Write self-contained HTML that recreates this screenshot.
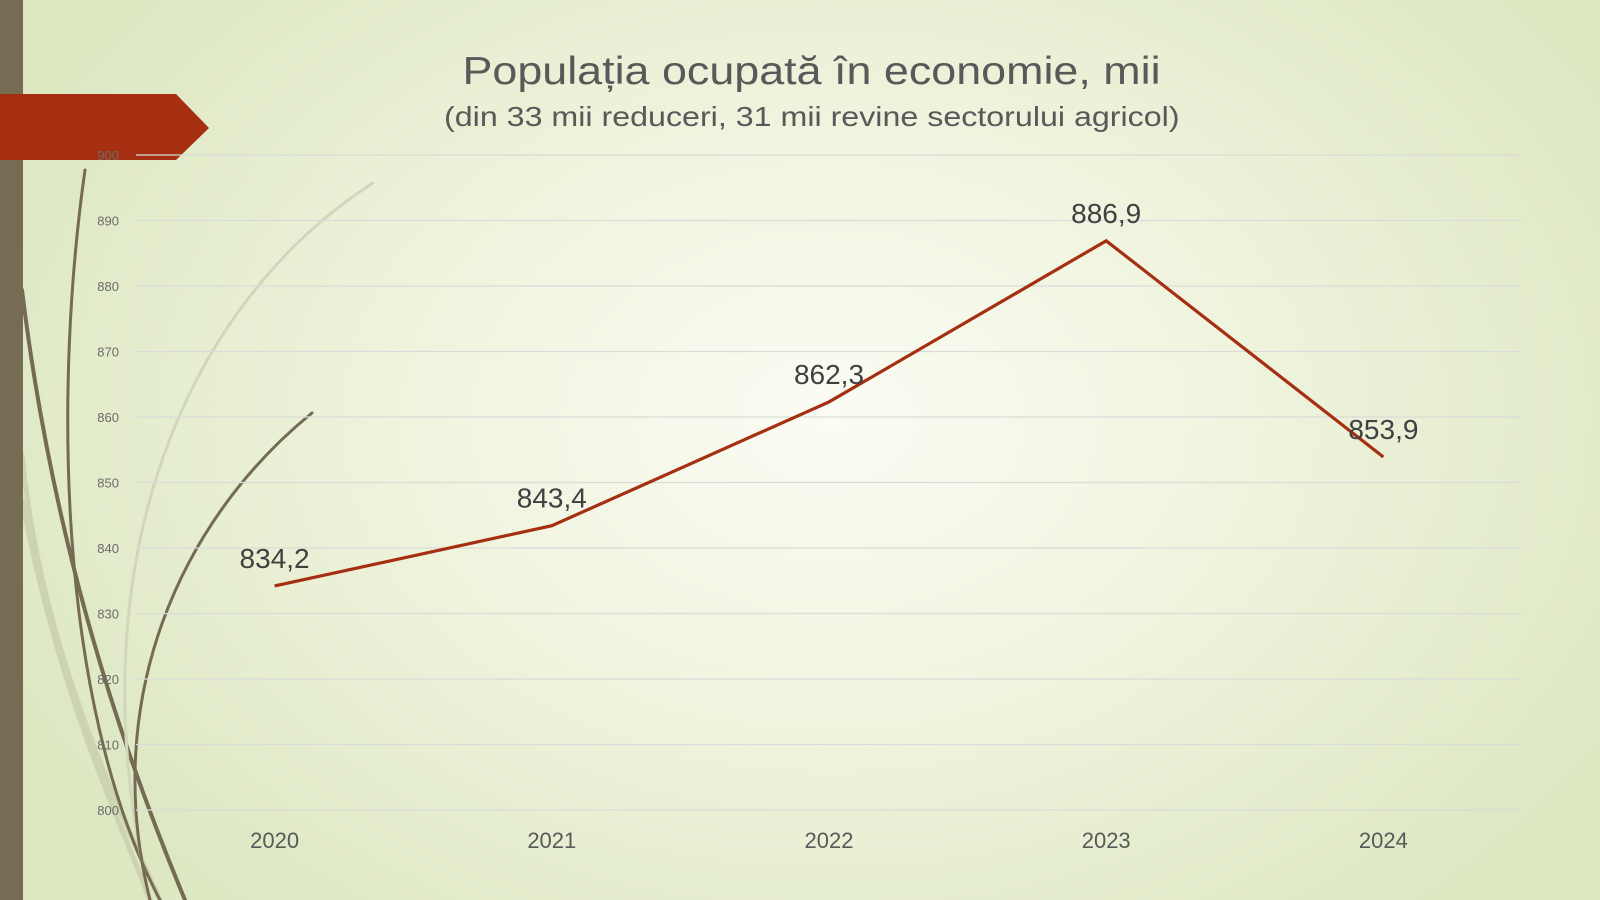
<!DOCTYPE html>
<html><head><meta charset="utf-8"><style>
html,body{margin:0;padding:0}
body{width:1600px;height:900px;overflow:hidden;position:relative;font-family:"Liberation Sans",sans-serif;
background:radial-gradient(ellipse 900px 650px at 830px 420px,#fbfcf4 0%,#eef3dc 50%,#dde7c2 100%);}
.tt{position:absolute;left:0;width:1624px;text-align:center;color:#595959}
.tt span{display:inline-block;transform:scaleX(1.15);transform-origin:center}
</style></head><body>
<svg width="1600" height="900" style="position:absolute;left:0;top:0">
<g fill="none" stroke-linecap="round">
<path d="M22 455 C40 640 110 790 160 900" stroke="#cdd3b0" stroke-width="5"/>
<path d="M22 500 C60 700 120 820 150 900" stroke="#cdd3b0" stroke-width="5"/>
<path d="M22 290 C50 520 110 720 185 900" stroke="#746b52" stroke-width="4"/>
<path d="M85 170 C55 380 55 700 160 900" stroke="#746b52" stroke-width="3"/>
<path d="M373 183 C190 300 70 560 150 900" stroke="#d2d6bd" stroke-width="3"/>
<path d="M312 413 C180 520 100 700 150 900" stroke="#746b52" stroke-width="3"/>
</g>
<rect x="0" y="0" width="23" height="900" fill="#766c53"/>
<polygon points="0,94 176,94 209,128 176,160 0,160" fill="#a52f10"/>
</svg>
<div class="tt" style="top:50px;font-size:39px"><span>Populația ocupată în economie, mii</span></div>
<div class="tt" style="top:101px;font-size:28px"><span>(din 33 mii reduceri, 31 mii revine sectorului agricol)</span></div>
<svg id="chart" width="1600" height="900" style="position:absolute;left:0;top:0"></svg>
<script>
const categories=["2020","2021","2022","2023","2024"];
const values=[834.2,843.4,862.3,886.9,853.9];
const valueLabels=["834,2","843,4","862,3","886,9","853,9"];
const yTicks=[800,810,820,830,840,850,860,870,880,890,900];
const NS="http://www.w3.org/2000/svg";
const svg=document.getElementById('chart');
const L=136,R=1522,T=155,B=810,ymin=800,ymax=900;
const x=i=>L+(R-L)/categories.length*(i+0.5);
const y=v=>B-(v-ymin)/(ymax-ymin)*(B-T);
function mk(t,a){const e=document.createElementNS(NS,t);for(const k in a)e.setAttribute(k,a[k]);svg.appendChild(e);return e;}
yTicks.forEach(v=>{
 const g=mk('line',{x1:L,x2:R,y1:y(v),y2:y(v),stroke:'#d9dcd8','stroke-width':1.2});
 
 
 const t=mk('text',{x:119,y:y(v)+5,'text-anchor':'end','font-size':13,fill:'#6b6b6b','font-family':'Liberation Sans'});
 t.textContent=v;
 
 
});
categories.forEach((c,i)=>{
 const t=mk('text',{x:x(i),y:848,'text-anchor':'middle','font-size':22,fill:'#595959','font-family':'Liberation Sans'});
 t.textContent=c;
 
 
});
const p=mk('polyline',{points:values.map((v,i)=>x(i)+','+y(v)).join(' '),fill:'none',stroke:'#a52f10','stroke-width':3.2,'stroke-linejoin':'miter'});


values.forEach((v,i)=>{
 const t=mk('text',{x:x(i),y:y(v)-18,'text-anchor':'middle','font-size':28,fill:'#404040','font-family':'Liberation Sans'});
 t.textContent=valueLabels[i];
 
 
});
</script>
</body></html>
